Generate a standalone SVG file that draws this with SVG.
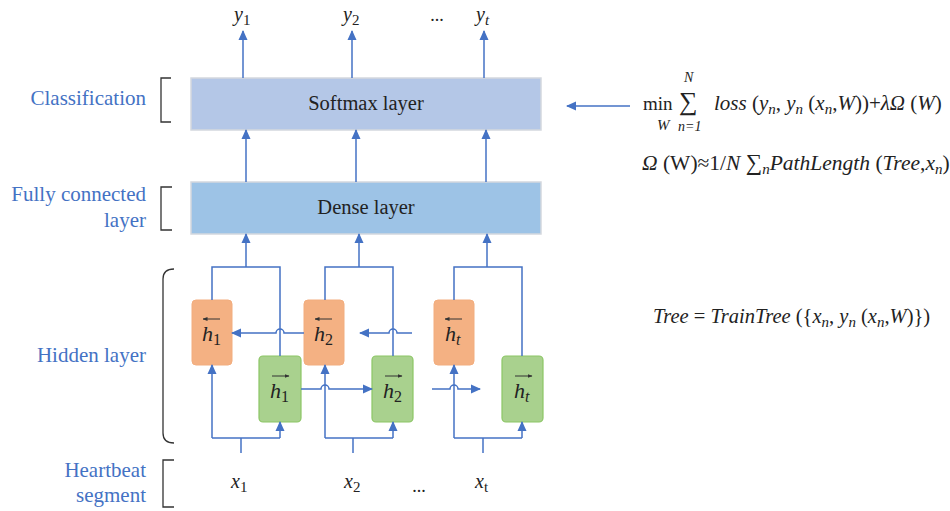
<svg xmlns="http://www.w3.org/2000/svg" width="950" height="511" viewBox="0 0 950 511">
<defs>
<marker id="ah" markerWidth="10" markerHeight="10" refX="9" refY="5" orient="auto" markerUnits="userSpaceOnUse">
<path d="M0,0.5 L10,5 L0,9.5 Z" fill="#4472c4"/>
</marker>
<marker id="sa" markerWidth="5" markerHeight="5" refX="4.5" refY="2.5" orient="auto" markerUnits="userSpaceOnUse">
<path d="M0,0.5 L5,2.5 L0,4.5 Z" fill="#333"/>
</marker>
</defs>
<style>
.lbl{font-family:"Liberation Serif","DejaVu Serif",serif;font-size:21px;fill:#4472c4;text-anchor:end}
.t{font-family:"Liberation Serif","DejaVu Serif",serif;fill:#222}
.i{font-style:italic}
.c{stroke:#4472c4;stroke-width:1.5;fill:none}
.a{stroke:#4472c4;stroke-width:1.5;fill:none;marker-end:url(#ah)}
.br{stroke:#333;stroke-width:1.3;fill:none}
.or{fill:#f4b183;stroke:#f2ad7e;stroke-width:1}
.gr{fill:#a9d18e;stroke:#8cc665;stroke-width:1.2}
.ov{stroke:#333;stroke-width:1;marker-end:url(#sa)}
</style>
<rect width="950" height="511" fill="#fff"/>

<g id="labels">
<text class="lbl" x="146" y="105">Classification</text>
<text class="lbl" x="146" y="201">Fully connected</text>
<text class="lbl" x="146" y="227">layer</text>
<text class="lbl" x="146" y="362">Hidden layer</text>
<text class="lbl" x="146" y="477">Heartbeat</text>
<text class="lbl" x="146" y="502">segment</text>
</g>
<g id="brackets">
<path class="br" d="M171,78 H161 V122 H171"/>
<path class="br" d="M172,187 H161 V230 H172"/>
<path class="br" d="M174,269 Q163,269 163,279 V433 Q163,443 174,443"/>
<path class="br" d="M174,460 H163 V507 H174"/>
</g>

<g id="softmax">
<rect x="191" y="78" width="350" height="52" fill="#b4c7e7" stroke="#d4d8de" stroke-width="1.5"/>
<text class="t" x="366" y="110" font-size="20.5" text-anchor="middle">Softmax layer</text>
</g>
<g id="dense">
<rect x="191" y="182" width="350" height="52" fill="#9dc3e6" stroke="#d4d8de" stroke-width="1.5"/>
<text class="t" x="366" y="214" font-size="20.5" text-anchor="middle">Dense layer</text>
</g>

<g id="hb1">
<rect class="or" x="192" y="300" width="40" height="65" rx="4"/>
<line class="ov" x1="220" y1="319" x2="203" y2="319"/>
<text class="t i" x="202" y="341" font-size="22">h<tspan font-style="normal" font-size="16" dy="4">1</tspan></text>
</g>
<g id="hb2">
<rect class="or" x="304" y="300" width="40" height="65" rx="4"/>
<line class="ov" x1="332" y1="319" x2="315" y2="319"/>
<text class="t i" x="314" y="341" font-size="22">h<tspan font-style="normal" font-size="16" dy="4">2</tspan></text>
</g>
<g id="hbt">
<rect class="or" x="434" y="300" width="40" height="65" rx="4"/>
<line class="ov" x1="462" y1="319" x2="445" y2="319"/>
<text class="t i" x="445" y="341" font-size="22">h<tspan font-size="16" dy="4">t</tspan></text>
</g>
<g id="hf1">
<rect class="gr" x="259" y="356" width="42" height="66" rx="4"/>
<line class="ov" x1="272" y1="376" x2="289" y2="376"/>
<text class="t i" x="270" y="398" font-size="22">h<tspan font-style="normal" font-size="16" dy="4">1</tspan></text>
</g>
<g id="hf2">
<rect class="gr" x="372" y="356" width="41" height="66" rx="4"/>
<line class="ov" x1="385" y1="376" x2="402" y2="376"/>
<text class="t i" x="383" y="398" font-size="22">h<tspan font-style="normal" font-size="16" dy="4">2</tspan></text>
</g>
<g id="hft">
<rect class="gr" x="502" y="356" width="41" height="66" rx="4"/>
<line class="ov" x1="515" y1="376" x2="532" y2="376"/>
<text class="t i" x="514" y="398" font-size="22">h<tspan font-size="16" dy="4">t</tspan></text>
</g>

<g id="outputs">
<text class="t i" x="234" y="21" font-size="20">y<tspan font-style="normal" font-size="15" dy="4">1</tspan></text>
<text class="t i" x="343" y="21" font-size="20">y<tspan font-style="normal" font-size="15" dy="4">2</tspan></text>
<text class="t" x="437" y="21" font-size="18" text-anchor="middle">...</text>
<text class="t i" x="476" y="21" font-size="20">y<tspan font-size="15" dy="4">t</tspan></text>
</g>
<g id="inputs">
<text class="t i" x="231" y="488" font-size="20">x<tspan font-style="normal" font-size="15" dy="4">1</tspan></text>
<text class="t i" x="344" y="488" font-size="20">x<tspan font-style="normal" font-size="15" dy="4">2</tspan></text>
<text class="t" x="419" y="492" font-size="18" text-anchor="middle">...</text>
<text class="t i" x="475" y="488" font-size="20">x<tspan font-style="normal" font-size="15" dy="4">t</tspan></text>
</g>

<g id="formulas" class="t" font-size="21">
<text x="643" y="110" font-size="19">min</text>
<text class="i" x="657" y="130" font-size="15">W</text>
<text x="679" y="110" font-size="26">∑</text>
<text class="i" x="684" y="82" font-size="14">N</text>
<text class="i" x="678" y="131" font-size="14">n=1</text>
<text x="714" y="110"><tspan class="i">loss</tspan> (<tspan class="i">y<tspan font-size="15" dy="4">n</tspan></tspan><tspan dy="-4">, </tspan><tspan class="i">y<tspan font-size="15" dy="4">n</tspan></tspan><tspan dy="-4"> (</tspan><tspan class="i">x<tspan font-size="15" dy="4">n</tspan></tspan><tspan dy="-4">,</tspan><tspan class="i">W</tspan>))+<tspan class="i">λΩ</tspan> (<tspan class="i">W</tspan>)</text>
<text x="642" y="170" font-size="21.5"><tspan class="i">Ω</tspan> (W)≈1/<tspan class="i">N</tspan> <tspan font-size="23">∑</tspan><tspan class="i" font-size="15" dy="4">n</tspan><tspan class="i" dy="-4">PathLength</tspan> (<tspan class="i">Tree</tspan>,<tspan class="i">x<tspan font-size="15" dy="4">n</tspan></tspan><tspan dy="-4">)</tspan></text>
<text x="653" y="323" font-size="20.5"><tspan class="i">Tree</tspan> = <tspan class="i">TrainTree</tspan> ({<tspan class="i">x<tspan font-size="15" dy="4">n</tspan></tspan><tspan dy="-4">, </tspan><tspan class="i">y<tspan font-size="15" dy="4">n</tspan></tspan><tspan dy="-4"> (</tspan><tspan class="i">x<tspan font-size="15" dy="4">n</tspan></tspan><tspan dy="-4">,</tspan><tspan class="i">W</tspan>)})</text>
</g>

<g id="connectors">
<line class="a" x1="243" y1="78" x2="243" y2="31"/>
<line class="a" x1="352" y1="78" x2="352" y2="31"/>
<line class="a" x1="484" y1="78" x2="484" y2="31"/>
<line class="a" x1="246" y1="182" x2="246" y2="130"/>
<line class="a" x1="356" y1="182" x2="356" y2="130"/>
<line class="a" x1="486" y1="182" x2="486" y2="130"/>
<line class="a" x1="630" y1="106" x2="567" y2="106"/>
<path class="c" d="M212,300 V267 H280 V356"/>
<line class="a" x1="246" y1="267" x2="246" y2="234"/>
<path class="c" d="M325,300 V267 H393 V356"/>
<line class="a" x1="359" y1="267" x2="359" y2="234"/>
<path class="c" d="M454,300 V267 H522 V356"/>
<line class="a" x1="487" y1="267" x2="487" y2="234"/>
<path class="c" d="M241,453 V438"/>
<path class="c" d="M212,438 H280"/>
<line class="a" x1="212" y1="438" x2="212" y2="365"/>
<line class="a" x1="280" y1="438" x2="280" y2="422"/>
<path class="c" d="M353,453 V438"/>
<path class="c" d="M325,438 H393"/>
<line class="a" x1="325" y1="438" x2="325" y2="365"/>
<line class="a" x1="393" y1="438" x2="393" y2="422"/>
<path class="c" d="M483,453 V438"/>
<path class="c" d="M454,438 H522"/>
<line class="a" x1="454" y1="438" x2="454" y2="365"/>
<line class="a" x1="522" y1="438" x2="522" y2="422"/>
<path class="a" d="M304,333 H284 A4,4 0 0 0 276,333 H232"/>
<path class="a" d="M412,333 H397 A4,4 0 0 0 389,333 H360"/>
<path class="a" d="M301,389 H321 A4,4 0 0 1 329,389 H372"/>
<path class="a" d="M432,389 H450 A4,4 0 0 1 458,389 H480"/>
</g>
</svg>
